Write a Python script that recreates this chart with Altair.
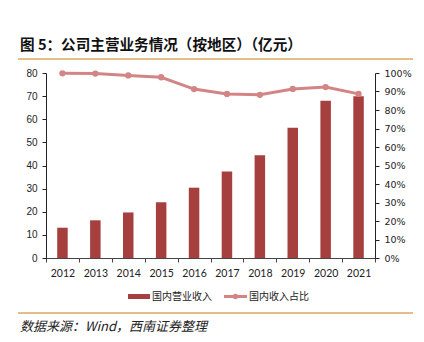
import altair as alt
import pandas as pd

years = ["2012", "2013", "2014", "2015", "2016", "2017", "2018", "2019", "2020", "2021"]
revenue = [13.1, 16.3, 19.7, 24.1, 30.4, 37.4, 44.4, 56.3, 68.0, 70.0]
share = [0.998, 0.997, 0.987, 0.977, 0.913, 0.887, 0.882, 0.914, 0.924, 0.887]

title_text = "图 5：公司主营业务情况（按地区）（亿元）"
source_text = "数据来源：Wind，西南证券整理"
legend_labels = ["国内营业收入", "国内收入占比"]

BAR = "#A5403F"
LINE = "#D38585"
RULE = "#D9A862"

df = pd.DataFrame({"year": years, "revenue": revenue, "share": share})

x = alt.X("year:N", title=None,
          scale=alt.Scale(paddingInner=0, paddingOuter=0),
          axis=alt.Axis(labelAngle=0, tickBand="extent", labelFont="Lato", labelFontSize=10.5,
                        labelColor="#222", domainColor="#444", tickColor="#444",
                        tickSize=4, labelPadding=6, grid=False))

bars = alt.Chart(df).mark_bar(size=10.5, color=BAR).encode(
    x=x,
    y=alt.Y("revenue:Q", title=None,
            scale=alt.Scale(domain=[0, 80], nice=False),
            axis=alt.Axis(values=[0, 10, 20, 30, 40, 50, 60, 70, 80], grid=False,
                          labelFont="Liberation Sans", labelFontSize=10, labelColor="#222",
                          domainColor="#222", tickColor="#222", tickSize=4, labelPadding=5))
)

line = alt.Chart(df).mark_line(color=LINE, strokeWidth=3,
                               point=alt.OverlayMarkDef(color=LINE, size=40, filled=True, opacity=1)).encode(
    x=x,
    y=alt.Y("share:Q", title=None,
            scale=alt.Scale(domain=[0, 1], nice=False),
            axis=alt.Axis(orient="right", format=".0%", values=[i / 10 for i in range(11)],
                          grid=False, labelFont="DejaVu Sans", labelFontSize=9.5, labelColor="#222",
                          domainColor="#222", tickColor="#222", tickSize=4, labelPadding=5))
)

one = pd.DataFrame({"t": [title_text], "s": [source_text],
                    "l1": [legend_labels[0]], "l2": [legend_labels[1]]})

title = alt.Chart(one).mark_text(align="left", baseline="middle", fontSize=14.6, fontWeight="bold",
                                 font="Noto Sans CJK SC", color="#111").encode(
    text="t:N", x=alt.value(-26), y=alt.value(-27))

rule_top = alt.Chart(one).mark_rule(color=RULE, strokeWidth=1.3).encode(
    x=alt.value(-28), x2=alt.value(367), y=alt.value(-14))
rule_bot = alt.Chart(one).mark_rule(color=RULE, strokeWidth=1.3).encode(
    x=alt.value(-28), x2=alt.value(367), y=alt.value(240))

source = alt.Chart(one).mark_text(align="left", baseline="middle", fontSize=13, fontStyle="italic",
                                  font="Noto Sans CJK SC", color="#222").encode(
    text="s:N", x=alt.value(-26), y=alt.value(254))

leg_rect = alt.Chart(one).mark_rect(color=BAR).encode(
    x=alt.value(82), x2=alt.value(104), y=alt.value(221), y2=alt.value(226))
leg_t1 = alt.Chart(one).mark_text(align="left", baseline="middle", fontSize=10,
                                  font="Noto Sans CJK SC", color="#222").encode(
    text="l1:N", x=alt.value(106), y=alt.value(223.5))
leg_line = alt.Chart(one).mark_rule(color=LINE, strokeWidth=3).encode(
    x=alt.value(178), x2=alt.value(201), y=alt.value(223.5))
leg_pt = alt.Chart(one).mark_point(color=LINE, filled=True, size=30, opacity=1).encode(
    x=alt.value(189.5), y=alt.value(223.5))
leg_t2 = alt.Chart(one).mark_text(align="left", baseline="middle", fontSize=10,
                                  font="Noto Sans CJK SC", color="#222").encode(
    text="l2:N", x=alt.value(203), y=alt.value(223.5))

main = alt.layer(bars, line).resolve_scale(y="independent")

chart = alt.layer(main, title, rule_top, rule_bot, source,
                  leg_rect, leg_t1, leg_line, leg_pt, leg_t2).properties(
    width=329, height=185,
    autosize=alt.AutoSizeParams(type="none"),
    padding={"left": 46, "top": 73, "right": 49, "bottom": 84},
    background="white",
).configure_view(stroke=None)

chart.save("out.html", embed_options={"renderer": "svg", "actions": False})
